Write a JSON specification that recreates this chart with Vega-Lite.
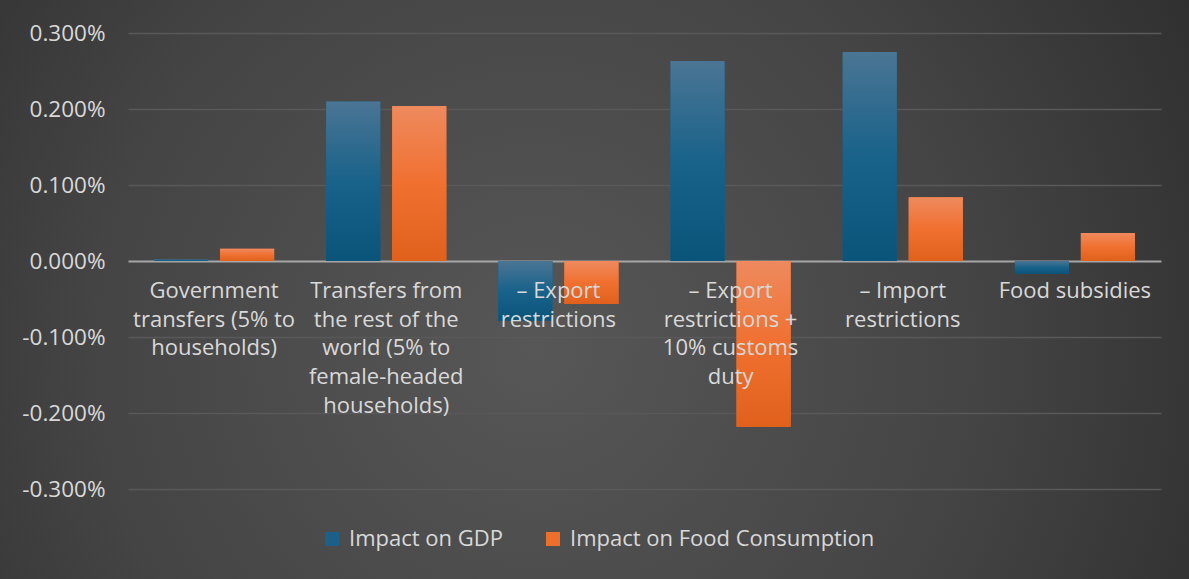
{
  "$schema": "https://vega.github.io/schema/vega-lite/v6.json",
  "autosize": "none",
  "padding": 0,
  "width": 1189,
  "height": 579,
  "background": "#333333",
  "config": {
    "view": {
      "stroke": null,
      "fill": {
        "gradient": "radial",
        "x1": 0.45, "y1": 0.55, "r1": 0,
        "x2": 0.45, "y2": 0.55, "r2": 0.75,
        "stops": [
          {"offset": 0, "color": "#575757"},
          {"offset": 0.5, "color": "#444444"},
          {"offset": 1, "color": "#262626"}
        ]
      }
    },
    "font": "Open Sans"
  },
  "data": {
    "values": [
      {"category": "Government transfers", "label": "Government\ntransfers (5% to\nhouseholds)", "series": "Impact on GDP", "value": 0.00002},
      {"category": "Government transfers", "label": "Government\ntransfers (5% to\nhouseholds)", "series": "Impact on Food Consumption", "value": 0.00016},
      {"category": "Transfers from RoW", "label": "Transfers from\nthe rest of the\nworld (5% to\nfemale-headed\nhouseholds)", "series": "Impact on GDP", "value": 0.0021},
      {"category": "Transfers from RoW", "label": "Transfers from\nthe rest of the\nworld (5% to\nfemale-headed\nhouseholds)", "series": "Impact on Food Consumption", "value": 0.00204},
      {"category": "Export restrictions", "label": "– Export\nrestrictions", "series": "Impact on GDP", "value": -0.000785},
      {"category": "Export restrictions", "label": "– Export\nrestrictions", "series": "Impact on Food Consumption", "value": -0.000566},
      {"category": "Export restrictions + customs", "label": "– Export\nrestrictions +\n10% customs\nduty", "series": "Impact on GDP", "value": 0.00263},
      {"category": "Export restrictions + customs", "label": "– Export\nrestrictions +\n10% customs\nduty", "series": "Impact on Food Consumption", "value": -0.00218},
      {"category": "Import restrictions", "label": "– Import\nrestrictions", "series": "Impact on GDP", "value": 0.00275},
      {"category": "Import restrictions", "label": "– Import\nrestrictions", "series": "Impact on Food Consumption", "value": 0.00084},
      {"category": "Food subsidies", "label": "Food subsidies", "series": "Impact on GDP", "value": -0.000167},
      {"category": "Food subsidies", "label": "Food subsidies", "series": "Impact on Food Consumption", "value": 0.00037}
    ]
  },
  "layer": [
    {
      "mark": {"type": "bar"},
      "encoding": {
        "x": {
          "field": "category",
          "type": "nominal",
          "sort": null,
          "axis": null,
          "scale": {"range": [128, 1161], "paddingInner": 0.302, "paddingOuter": 0.151}
        },
        "y": {
          "field": "value",
          "type": "quantitative",
          "scale": {"domain": [-0.003, 0.003], "range": [489, 33], "nice": false, "zero": false},
          "axis": {
            "title": null,
            "values": [-0.003, -0.002, -0.001, 0, 0.001, 0.002, 0.003],
            "format": ".3%",
            "labelExpr": "replace(datum.label, '−', '-')",
            "offset": -125,
            "labelPadding": 20,
            "labelFontSize": 22.5,
            "labelColor": "#d9d9d9",
            "labelFont": "Open Sans",
            "ticks": false,
            "domain": false,
            "grid": true,
            "gridColor": {"condition": {"test": "datum.value === 0", "value": "#a6a6a6"}, "value": "#595959"},
            "gridWidth": {"condition": {"test": "datum.value === 0", "value": 2}, "value": 1.5}
          }
        },
        "xOffset": {
          "field": "series",
          "type": "nominal",
          "sort": ["Impact on GDP", "Impact on Food Consumption"],
          "scale": {"paddingInner": 0.18, "paddingOuter": 0}
        },
        "color": {
          "field": "series",
          "type": "nominal",
          "sort": ["Impact on GDP", "Impact on Food Consumption"],
          "scale": {"domain": ["Impact on GDP", "Impact on Food Consumption"], "range": ["#1a6088", "#ee6e2c"]},
          "legend": {
            "title": null,
            "orient": "none",
            "legendX": 321,
            "legendY": 528,
            "direction": "horizontal",
            "symbolType": "square",
            "symbolSize": 196,
            "symbolStrokeWidth": 0,
            "labelFontSize": 22,
            "labelColor": "#d9d9d9",
            "labelFont": "Open Sans",
            "labelOffset": 6,
            "columnPadding": 39,
            "padding": 0,
            "labelLimit": 400
          }
        }
      }
    },
    {
      "mark": {"type": "bar"},
      "encoding": {
        "x": {"field": "category", "type": "nominal", "sort": null},
        "y": {"field": "value", "type": "quantitative"},
        "xOffset": {
          "field": "series",
          "type": "nominal",
          "sort": ["Impact on GDP", "Impact on Food Consumption"]
        },
        "fill": {
          "condition": {
            "test": "datum.series === 'Impact on GDP'",
            "value": {
              "gradient": "linear", "x1": 0, "y1": 0, "x2": 0, "y2": 1,
              "stops": [
                {"offset": 0, "color": "#4b7594"},
                {"offset": 0.5, "color": "#19628a"},
                {"offset": 1, "color": "#0a5379"}
              ]
            }
          },
          "value": {
            "gradient": "linear", "x1": 0, "y1": 0, "x2": 0, "y2": 1,
            "stops": [
              {"offset": 0, "color": "#ee8a5e"},
              {"offset": 0.5, "color": "#f07030"},
              {"offset": 1, "color": "#e0601c"}
            ]
          }
        }
      }
    },
    {
      "transform": [{"filter": "datum.series === 'Impact on GDP'"}],
      "mark": {
        "type": "text",
        "baseline": "top",
        "align": "center",
        "dy": 20,
        "lineBreak": "\n",
        "lineHeight": 28.7,
        "fontSize": 22,
        "fill": "#d9d9d9",
        "font": "Open Sans"
      },
      "encoding": {
        "x": {"field": "category", "type": "nominal", "sort": null},
        "y": {"datum": 0, "type": "quantitative"},
        "text": {"field": "label", "type": "nominal"}
      }
    }
  ]
}
